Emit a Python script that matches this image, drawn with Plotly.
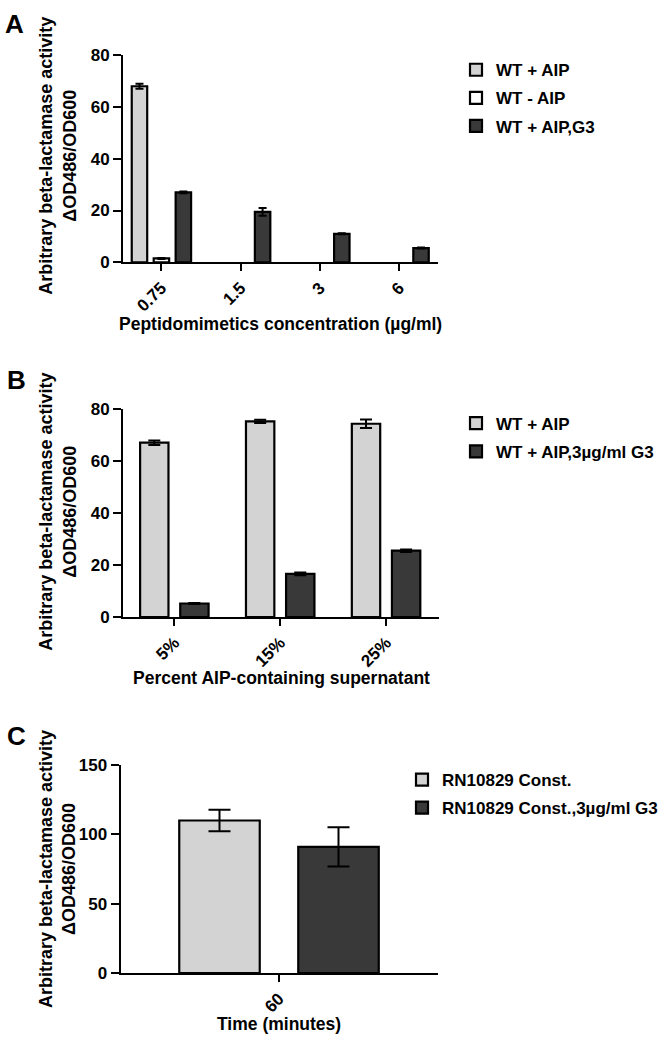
import plotly.graph_objects as go

# ---------------- data ----------------
# Panel A
a_categories = ["0.75", "1.5", "3", "6"]
a_wt_aip = [68.0, None, None, None]
a_wt_aip_err = [1.0, None, None, None]
a_wt_no_aip = [1.5, None, None, None]
a_wt_no_aip_err = [0.2, None, None, None]
a_wt_aip_g3 = [27.0, 19.5, 11.0, 5.5]
a_wt_aip_g3_err = [0.3, 1.5, 0.2, 0.2]
a_series_names = ["WT + AIP", "WT - AIP", "WT + AIP,G3"]

# Panel B
b_categories = ["5%", "15%", "25%"]
b_wt_aip = [67.0, 75.2, 74.3]
b_wt_aip_err = [0.9, 0.6, 1.6]
b_wt_aip_g3 = [5.2, 16.6, 25.5]
b_wt_aip_g3_err = [0.2, 0.5, 0.5]
b_series_names = ["WT + AIP", "WT + AIP,3µg/ml G3"]

# Panel C
c_categories = ["60"]
c_const = [110.0]
c_const_err = [7.8]
c_const_g3 = [91.0]
c_const_g3_err = [14.2]
c_series_names = ["RN10829 Const.", "RN10829 Const.,3µg/ml G3"]

a_yticks = [0, 20, 40, 60, 80]
b_yticks = [0, 20, 40, 60, 80]
c_yticks = [0, 50, 100, 150]

# ---------------- style ----------------
W, H = 666, 1046
FONT = "Liberation Sans, Arial, sans-serif"
LIGHT = "#d3d3d3"
DARK = "#393939"
WHITE = "#ffffff"


def px_x(p):
    return p / W


def px_y(p):
    return 1 - p / H


fig = go.Figure()


def add_bar(name, cats, vals, errs, color, xa, ya, center, width, capw, legend):
    fig.add_trace(go.Bar(
        name=name, x=cats, y=vals,
        xaxis=xa, yaxis=ya,
        marker=dict(color=color, line=dict(color="black", width=2.2)),
        width=width, offset=center - width / 2,
        error_y=dict(type="data", array=errs, visible=True, color="black",
                     thickness=2, width=capw),
        legend=legend, legendgroup=legend + name,
        hoverinfo="skip",
    ))


# Panel A (slot spacing 22px of 79.4px per category, bar 15px)
a_unit = 79.4
a_w = 15.5 / a_unit
a_s = 22 / a_unit
add_bar(a_series_names[0], a_categories, a_wt_aip, a_wt_aip_err, LIGHT, "x", "y", -a_s, a_w, 4, "legend")
add_bar(a_series_names[1], a_categories, a_wt_no_aip, a_wt_no_aip_err, WHITE, "x", "y", 0, a_w, 4, "legend")
add_bar(a_series_names[2], a_categories, a_wt_aip_g3, a_wt_aip_g3_err, DARK, "x", "y", a_s, a_w, 4, "legend")

# Panel B
b_unit = 105.6
b_w = 28.3 / b_unit
b_s = 20 / b_unit
add_bar(b_series_names[0], b_categories, b_wt_aip, b_wt_aip_err, LIGHT, "x2", "y2", -b_s, b_w, 6, "legend2")
add_bar(b_series_names[1], b_categories, b_wt_aip_g3, b_wt_aip_g3_err, DARK, "x2", "y2", b_s, b_w, 6, "legend2")

# Panel C
c_unit = 317.0
c_w = 80.5 / c_unit
c_s = 59.5 / c_unit
add_bar(c_series_names[0], c_categories, c_const, c_const_err, LIGHT, "x3", "y3", -c_s, c_w, 11, "legend3")
add_bar(c_series_names[1], c_categories, c_const_g3, c_const_g3_err, DARK, "x3", "y3", c_s, c_w, 11, "legend3")

tickfont = dict(family=FONT, size=17, color="black", weight="bold")


def xaxis(dom, yanchor, lo, hi):
    return dict(domain=dom, anchor=yanchor, type="category",
                range=[lo, hi], showline=True, linecolor="black", linewidth=2,
                ticks="outside", ticklen=7, tickwidth=2, tickcolor="black",
                tickangle=-45, tickfont=tickfont, showgrid=False, zeroline=False,
                fixedrange=True)


def yaxis(dom, xanchor, rng, tv):
    return dict(domain=dom, anchor=xanchor, range=rng, tickvals=tv,
                showline=True, linecolor="black", linewidth=2,
                ticks="outside", ticklen=8, tickwidth=2, tickcolor="black",
                tickfont=tickfont, showgrid=False, zeroline=False, fixedrange=True)


legfont = dict(family=FONT, size=17, color="black", weight="bold")


def legend(xp, yp):
    return dict(x=px_x(xp), y=px_y(yp), xanchor="left", yanchor="top",
                font=legfont, bgcolor="rgba(0,0,0,0)", traceorder="grouped",
                tracegroupgap=3, itemclick=False, itemdoubleclick=False)


fig.update_layout(
    width=W, height=H,
    margin=dict(l=0, r=0, t=0, b=0),
    paper_bgcolor="white", plot_bgcolor="white",
    font=dict(family=FONT, color="black"),
    xaxis=xaxis([px_x(123), px_x(437.5)], "y", -0.485, 3.485),
    yaxis=yaxis([px_y(258), px_y(47)], "x", [0, 80], a_yticks),
    xaxis2=xaxis([px_x(123), px_x(439)], "y2", -0.485, 2.5),
    yaxis2=yaxis([px_y(619.3), px_y(407.3)], "x2", [0, 80], b_yticks),
    xaxis3=xaxis([px_x(120.5), px_x(437.5)], "y3", -0.5, 0.5),
    yaxis3=yaxis([px_y(982), px_y(770)], "x3", [0, 150], c_yticks),
    legend=legend(456, 44),
    legend2=legend(456, 404),
    legend3=legend(402, 767),
    showlegend=True,
)

ytitle = "Arbitrary beta-lactamase activity<br>ΔOD486/OD600"
annots = [
    ("A", 14, 15, 0, 26),
    ("B", 16, 378, 0, 26),
    ("C", 16, 740, 0, 26),
    (ytitle, 57.5, 150, -90, 18),
    (ytitle, 57.5, 512.5, -90, 18),
    (ytitle, 57.5, 876.5, -90, 18),
    ("Peptidomimetics concentration (µg/ml)", 280, 321, 0, 17.5),
    ("Percent AIP-containing supernatant", 281, 681, 0, 17.5),
    ("Time (minutes)", 279, 1034, 0, 17.5),
]
for text, xp, yp, ang, size in annots:
    fig.add_annotation(text=text, x=px_x(xp), y=px_y(yp), xref="paper", yref="paper",
                       xanchor="center", yanchor="middle", showarrow=False,
                       textangle=ang,
                       font=dict(family=FONT, size=size, color="black", weight="bold"))

fig.write_html("out.html", config={"displayModeBar": False},
               post_script="document.body.style.margin='0';")
